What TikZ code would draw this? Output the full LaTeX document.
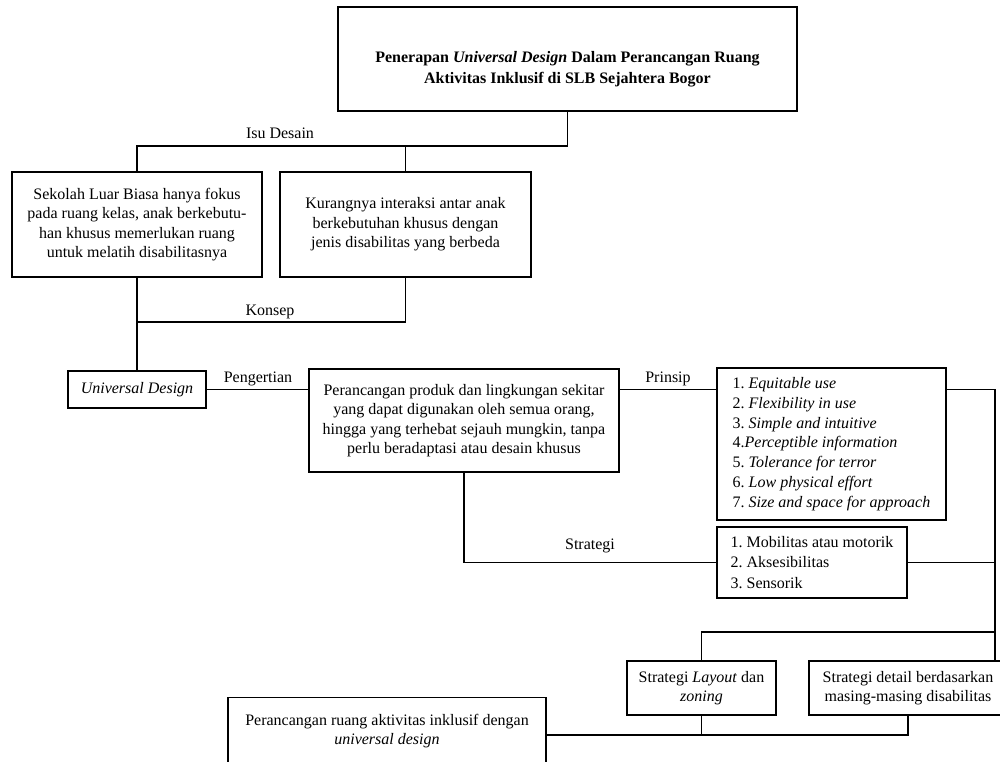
\documentclass[tikz,border=0pt]{standalone}
\usepackage{fontspec}
\setmainfont{Liberation Serif}
\frenchspacing
\begin{document}
\begin{tikzpicture}[x=1pt,y=-1pt,
  box/.style={draw, line width=1.8pt, font=\fontsize{16}{19.5}\selectfont, align=center, inner sep=0pt},
  listbox/.style={draw, line width=1.8pt, font=\fontsize{16}{19.8}\selectfont, align=left, inner sep=0pt},
  lbl/.style={font=\fontsize{16}{19.5}\selectfont, inner sep=0pt},
  conn/.style={line width=1.8pt}]
\useasboundingbox (0,0) rectangle (1000,761);
\clip (0,0) rectangle (1000,761);

% boxes
\node[box, minimum width=459pt, minimum height=104pt, font=\bfseries\fontsize{16}{20.5}\selectfont] (title) at (567.5,59)
  {\rule{0pt}{31.5pt}Penerapan \textit{Universal Design} Dalam Perancangan Ruang\\ Aktivitas Inklusif di SLB Sejahtera Bogor};
\node[box, minimum width=250pt, minimum height=105pt] (b1) at (137,224.5)
  {Sekolah Luar Biasa hanya fokus\\ pada ruang kelas, anak berkebutu-\\ han khusus memerlukan ruang\\ untuk melatih disabilitasnya};
\node[box, minimum width=251pt, minimum height=105pt] (b2) at (405.5,224.5)
  {Kurangnya interaksi antar anak\\ berkebutuhan khusus dengan\\ jenis disabilitas yang berbeda};
\node[box, minimum width=138pt, minimum height=37pt] (ud) at (137,389.5) {\textit{Universal Design}};
\node[box, minimum width=310pt, minimum height=103pt] (def) at (464,420.5)
  {Perancangan produk dan lingkungan sekitar\\ yang dapat digunakan oleh semua orang,\\ hingga yang terhebat sejauh mungkin, tanpa\\ perlu beradaptasi atau desain khusus};
\node[listbox, minimum width=229pt, minimum height=152pt] (prin) at (831.5,444)
  {1. \textit{Equitable use}\\
   2. \textit{Flexibility in use}\\
   3. \textit{Simple and intuitive}\\
   4.\textit{Perceptible information}\\
   5. \textit{Tolerance for terror}\\
   6. \textit{Low physical effort}\\
   7. \textit{Size and space for approach}};
\node[listbox, minimum width=190pt, minimum height=71pt, font=\fontsize{16}{20.5}\selectfont] (strat) at (812,562.5)
  {1. Mobilitas atau motorik\\ 2. Aksesibilitas\\ 3. Sensorik};
\node[box, minimum width=149pt, minimum height=54pt] (lay) at (701.5,688)
  {Strategi \textit{Layout} dan\\ \textit{zoning}};
\node[box, minimum width=198pt, minimum height=54pt] (det) at (908,688)
  {Strategi detail berdasarkan\\ masing-masing disabilitas};
\node[box, minimum width=318pt, minimum height=67pt] (fin) at (387,731)
  {Perancangan ruang aktivitas inklusif dengan\\ \textit{universal design}};

% helper coordinates
\coordinate (isuy) at (0,146);
\coordinate (konsy) at (0,322);
\coordinate (ry) at (0,389.5);
\coordinate (rx) at (995,0);
\coordinate (midy) at (0,632);
\coordinate (boty) at (0,735);

% connectors
\draw[conn] (title.south) -- (title.south |- isuy) -| (b1.north);
\draw[conn] (b2.north) -- (b2.north |- isuy);
\draw[conn] (b1.south) -- (ud.north);
\draw[conn] (b2.south) |- (b1.south |- konsy);
\draw[conn] (ud.east) -- (ud.east -| def.west);
\draw[conn] (ry -| def.east) -- (ry -| prin.west);
\draw[conn] (ry -| prin.east) -| (rx |- det.north);
\draw[conn] (strat.east) -- (strat.east -| rx);
\draw[conn] (def.south) |- (strat.west);
\draw[conn] (rx |- midy) -| (lay.north);
\draw[conn] (lay.south) -- (lay.south |- boty);
\draw[conn] (fin.east |- boty) -| (det.south);

% labels
\node[lbl] (lisu) at (280,133) {Isu Desain};
\node[lbl] (lkon) at (270,312) {Konsep};
\node[lbl] (lpen) at (258,379) {Pengertian};
\node[lbl] (lpri) at (668,379) {Prinsip};
\node[lbl] (lstr) at (590,546) {Strategi};
\end{tikzpicture}
\end{document}
